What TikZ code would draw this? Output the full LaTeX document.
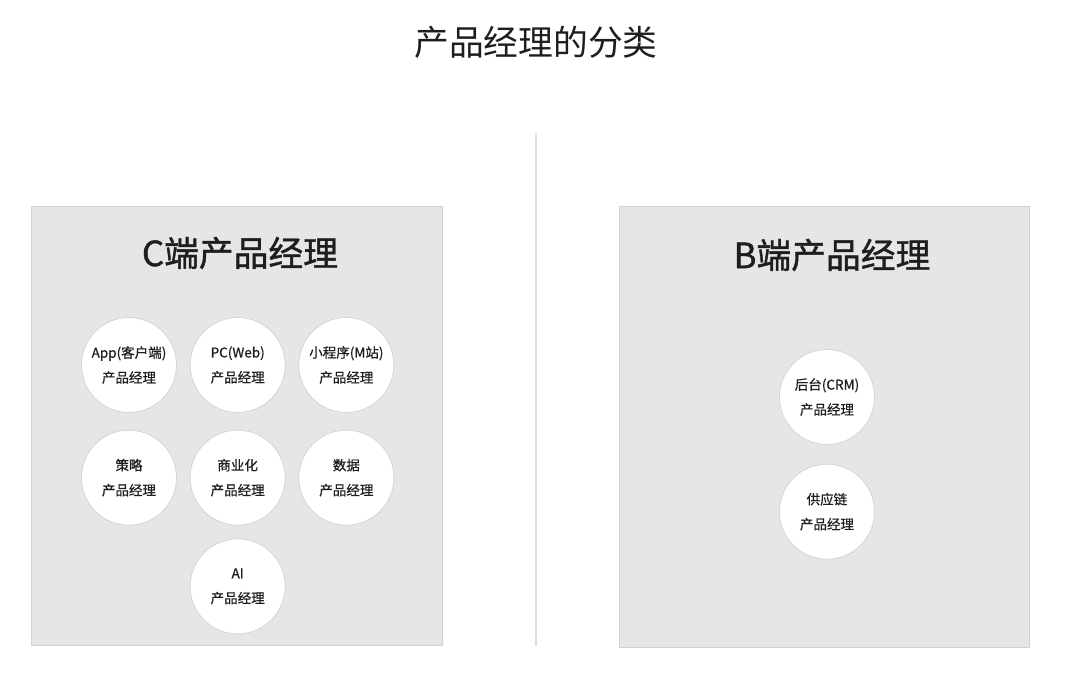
\documentclass[tikz,border=0pt]{standalone}
\usepackage{fontspec}
\setmainfont{Noto Sans CJK SC}
\newfontfamily\headfont{Noto Sans CJK SC}[FakeBold=1.2]
\newfontfamily\rolefont{Noto Sans CJK SC}[FakeBold=0.6]
\usetikzlibrary{positioning}
\definecolor{PanelGray}{RGB}{230,230,230}
\definecolor{PanelEdge}{RGB}{210,210,210}
\definecolor{RuleGray}{RGB}{224,224,224}
\definecolor{InkGray}{RGB}{30,30,30}

\begin{document}
\begin{tikzpicture}[x=0.02cm,y=-0.02cm,node distance=0.26cm,
    panel/.style={draw=PanelEdge,fill=PanelGray,line width=0.6pt,inner sep=0pt},
    role/.style={circle,draw=PanelEdge,fill=white,line width=0.4pt,minimum size=1.9cm,inner sep=0pt,align=center,font=\rolefont\fontsize{7.7}{14.2}\selectfont,text=InkGray},
    heading/.style={font=\fontsize{19.8}{24}\selectfont,text=InkGray}]
    \useasboundingbox[fill=white] (0,0) rectangle (1080,673);
    \node[heading] (title) at (536,42) {产品经理的分类};
    \draw[RuleGray,line width=1.2pt] (536,133) -- (536,646);

    % C side
    \node[panel,minimum width=8.24cm,minimum height=8.8cm] (cbox) at (237,426) {};
    \node[heading,font=\headfont\fontsize{19.8}{24}\selectfont] (ctitle) at (240,253) {C端产品经理};
    \node[role] (app) at (129,365) {App(客户端)\\产品经理};
    \node[role,right=of app] (pc) {PC(Web)\\产品经理};
    \node[role,right=of pc] (mini) {小程序(M站)\\产品经理};
    \node[role,below=0.34cm of app] (strategy) {策略\\产品经理};
    \node[role,below=0.34cm of pc] (biz) {商业化\\产品经理};
    \node[role,below=0.34cm of mini] (data) {数据\\产品经理};
    \node[role,below=of biz] (ai) {AI\\产品经理};

    % B side
    \node[panel,minimum width=8.22cm,minimum height=8.84cm] (bbox) at (824.5,427) {};
    \node[heading,font=\headfont\fontsize{19.8}{24}\selectfont] (btitle) at (832,255) {B端产品经理};
    \node[role] (crm) at (827,397) {后台(CRM)\\产品经理};
    \node[role,below=0.38cm of crm] (supply) {供应链\\产品经理};
\end{tikzpicture}
\end{document}
